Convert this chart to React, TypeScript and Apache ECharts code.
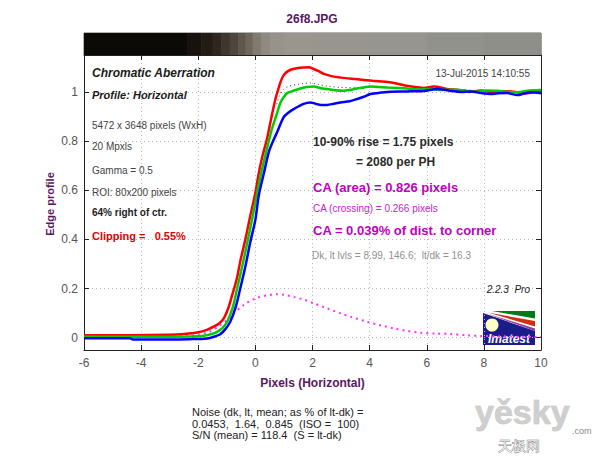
import React, { useEffect, useRef } from "react";
import * as echarts from "echarts";

// ---- data ----
const redX = [-6, -4.4, -3, -2.5, -2, -1.7, -1.46, -1.25, -1.1, -0.95, -0.82, -0.65, -0.53, -0.35, -0.17, 0, 0.12, 0.25, 0.41, 0.55, 0.7, 0.8, 0.88, 1.0, 1.23, 1.5, 1.7, 1.87, 2.04, 2.2, 2.4, 2.7, 3.0, 3.5, 4.1, 4.7, 5.3, 5.6, 5.9, 6.25, 6.7, 7.1, 7.5, 7.9, 8.3, 8.7, 9.1, 9.5, 10];
const redY = [0.01, 0.01, 0.012, 0.015, 0.022, 0.032, 0.045, 0.06, 0.08, 0.12, 0.17, 0.24, 0.31, 0.4, 0.5, 0.59, 0.67, 0.74, 0.81, 0.89, 0.97, 1.01, 1.04, 1.07, 1.09, 1.097, 1.099, 1.1, 1.093, 1.085, 1.073, 1.063, 1.058, 1.052, 1.045, 1.039, 1.025, 1.02, 1.016, 1.022, 1.012, 1.008, 1.0, 1.006, 0.999, 1.003, 1.0, 0.994, 1.004];

const greenX = [-6, -4.4, -3, -2.3, -1.81, -1.5, -1.34, -1.15, -0.99, -0.8, -0.64, -0.5, -0.35, -0.17, 0, 0.15, 0.29, 0.45, 0.58, 0.75, 0.88, 1.0, 1.11, 1.3, 1.58, 1.8, 2.04, 2.3, 2.51, 2.8, 3.1, 3.3, 3.56, 3.8, 4.03, 4.3, 4.61, 5.0, 5.31, 5.7, 6.13, 6.5, 7.06, 7.4, 7.77, 8.1, 8.47, 8.8, 9.17, 9.6, 10];
const greenY = [0.004, 0.004, 0.004, 0.005, 0.008, 0.016, 0.024, 0.04, 0.065, 0.12, 0.2, 0.27, 0.35, 0.45, 0.55, 0.64, 0.714, 0.79, 0.85, 0.91, 0.957, 0.98, 0.995, 1.003, 1.014, 1.02, 1.022, 1.015, 1.012, 1.007, 1.005, 1.008, 1.014, 1.018, 1.022, 1.02, 1.018, 1.016, 1.014, 1.01, 1.012, 1.008, 1.009, 1.004, 1.001, 1.006, 1.005, 1.0, 0.998, 1.006, 1.008];

const blueX = [-6, -4.4, -4.3, -3, -2.3, -1.69, -1.45, -1.23, -1.05, -0.88, -0.7, -0.53, -0.35, -0.175, 0, 0.12, 0.3, 0.47, 0.62, 0.76, 0.99, 1.15, 1.34, 1.69, 1.93, 2.1, 2.3, 2.51, 2.75, 2.98, 3.3, 3.56, 3.8, 4.03, 4.4, 4.73, 5.31, 5.9, 6.37, 6.83, 7.2, 7.53, 7.9, 8.23, 8.5, 8.82, 9.17, 9.4, 9.63, 10];
const blueY = [-0.002, -0.002, -0.007, -0.007, -0.006, -0.003, 0.004, 0.014, 0.035, 0.065, 0.12, 0.2, 0.29, 0.39, 0.48, 0.579, 0.67, 0.755, 0.8, 0.836, 0.897, 0.915, 0.93, 0.951, 0.957, 0.952, 0.947, 0.947, 0.952, 0.957, 0.962, 0.971, 0.98, 0.991, 0.997, 1.001, 1.002, 1.004, 1.012, 1.004, 1.0, 1.002, 0.995, 0.991, 0.994, 0.995, 0.987, 0.993, 0.998, 0.994];

const lumX = [0.75, 0.85, 1.0, 1.2, 1.5, 1.7, 1.93, 2.2, 2.5, 3.0, 3.5, 4.0, 5, 6, 7, 8, 9, 10];
const lumY = [0.95, 0.985, 1.012, 1.024, 1.031, 1.034, 1.036, 1.03, 1.024, 1.018, 1.017, 1.022, 1.016, 1.013, 1.009, 1.005, 1.0, 1.007];

const caX = [-6, -5, -4, -3, -2.3, -2, -1.6, -1.3, -1.0, -0.76, -0.41, 0, 0.4, 0.76, 1.0, 1.34, 1.7, 2.04, 2.5, 2.98, 3.4, 3.91, 4.4, 4.84, 5.3, 5.78, 6.3, 6.83, 7.4, 7.88, 8.5, 9.2, 10];
const caY = [0.004, 0.004, 0.006, 0.007, 0.008, 0.012, 0.025, 0.045, 0.07, 0.099, 0.133, 0.16, 0.172, 0.177, 0.175, 0.166, 0.155, 0.14, 0.12, 0.099, 0.083, 0.065, 0.05, 0.038, 0.028, 0.02, 0.017, 0.015, 0.01, 0.007, 0.006, 0.004, 0.003];

// edge image strip: segment starts (x) and shades
const stripX = [-6, -2.4, -1.9, -1.5, -1.2, -0.9, -0.6, -0.35, -0.1, 0.2, 0.5, 1.0, 2, 4, 6, 8, 10];
const stripColors = ["#0c0a07", "#17120d", "#231c15", "#2f271f", "#3f362d", "#4e453c", "#5f564c", "#6f675c", "#817a6f", "#8f897f", "#98938a", "#9a968d", "#98958e", "#96958f", "#92928c", "#8f8f8a"];

const yTicks = [0, 0.2, 0.4, 0.6, 0.8, 1];

const titleText = "26f8.JPG";
const xName = "Pixels (Horizontal)";
const yName = "Edge profile";
const leftNotes = [
  { t: "Chromatic Aberration", y: 73, s: "bold italic 12px", c: "#1a1a1a" },
  { t: "Profile: Horizontal", y: 95, s: "bold italic 11px", c: "#1a1a1a" },
  { t: "5472 x 3648 pixels (WxH)", y: 125, s: "10px", c: "#444" },
  { t: "20 Mpxls", y: 146, s: "10px", c: "#444" },
  { t: "Gamma = 0.5", y: 170, s: "10px", c: "#444" },
  { t: "ROI: 80x200 pixels", y: 192, s: "10px", c: "#444" },
  { t: "64% right of ctr.", y: 212, s: "bold 10px", c: "#222" },
  { t: "Clipping =   0.55%", y: 236, s: "bold 11px", c: "#e00000" },
];
const rightNotes = [
  { t: "10-90% rise = 1.75 pixels", x: 313, y: 142, s: "bold 12px", c: "#2a2a2a" },
  { t: "= 2080 per PH", x: 356, y: 162, s: "bold 12px", c: "#2a2a2a" },
  { t: "CA (area) = 0.826 pixels", x: 313, y: 187, s: "bold 13px", c: "#c000c0" },
  { t: "CA (crossing) = 0.266 pixels", x: 313, y: 208, s: "10px", c: "#d020d0" },
  { t: "CA = 0.039% of dist. to corner", x: 313, y: 230, s: "bold 13px", c: "#c000c0" },
  { t: "Dk, lt lvls = 8.99, 146.6;  lt/dk = 16.3", x: 312, y: 255, s: "10px", c: "#909090" },
];
const dateText = "13-Jul-2015 14:10:55";
const versionText = "2.2.3  Pro";
const noiseLines = [
  "Noise (dk, lt, mean; as % of lt-dk) =",
  "0.0453,  1.64,  0.845  (ISO =  100)",
  "S/N (mean) = 118.4  (S = lt-dk)",
];

const zip = (xs: number[], ys: number[]) => xs.map((x, i) => [x, ys[i]]);

export default function App() {
  const ref = useRef<HTMLDivElement>(null);
  useEffect(() => {
    const chart = echarts.init(ref.current!, null, { renderer: "svg" });
    const ff = "'Liberation Sans', Arial, sans-serif";
    const axisLine = { color: "#222", width: 1 };
    const split = { show: true, lineStyle: { type: [1, 3], color: "#b8b8b8", width: 1 } };
    const purple = "#5a1760";

    const txt = (text: string, x: number, y: number, font: string, fill: string, align = "left", extra: any = {}, rotation = 0) => ({
      type: "text",
      x,
      y,
      rotation,
      silent: true,
      style: {
        text,
        font: `${font} ${ff}`,
        fill,
        align,
        textAlign: align,
        verticalAlign: "middle",
        textVerticalAlign: "middle",
        ...extra,
      },
      z: 50,
    });

    const stripData = stripX.slice(0, -1).map((x, i) => [x, stripX[i + 1]]);

    const option: any = {
      animation: false,
      backgroundColor: "#ffffff",
      textStyle: { fontFamily: ff },
      grid: [
        { left: 84, top: 55, width: 457, height: 295 },
        { left: 84, top: 33, width: 457, height: 22, show: true, borderColor: "#666", borderWidth: 1 },
      ],
      xAxis: [
        {
          type: "value", gridIndex: 0, min: -6, max: 10, interval: 2, position: "bottom",
          axisLine: { show: true, onZero: false, lineStyle: axisLine },
          axisTick: { show: true, inside: true, length: 5, lineStyle: axisLine },
          axisLabel: { color: "#555", fontSize: 12, margin: 7, fontFamily: ff },
          splitLine: split,
          name: xName, nameLocation: "middle", nameGap: 27,
          nameTextStyle: { color: purple, fontWeight: "bold", fontSize: 12, fontFamily: ff },
        },
        {
          type: "value", gridIndex: 0, min: -6, max: 10, interval: 2, position: "top",
          axisLine: { show: true, onZero: false, lineStyle: axisLine },
          axisTick: { show: true, inside: true, length: 5, lineStyle: axisLine },
          axisLabel: { show: false }, splitLine: { show: false },
        },
        { type: "value", gridIndex: 1, min: -6, max: 10, show: false },
      ],
      yAxis: [
        {
          type: "value", gridIndex: 0, min: -0.05, max: 1.15, position: "left",
          axisLine: { show: true, onZero: false, lineStyle: axisLine },
          axisTick: { show: true, inside: true, length: 5, lineStyle: axisLine, customValues: yTicks },
          axisLabel: { color: "#555", fontSize: 12, margin: 6, fontFamily: ff, customValues: yTicks },
          splitLine: split,
        },
        {
          type: "value", gridIndex: 0, min: -0.05, max: 1.15, position: "right",
          axisLine: { show: true, onZero: false, lineStyle: axisLine },
          axisTick: { show: true, inside: true, length: 5, lineStyle: axisLine, customValues: yTicks },
          axisLabel: { show: false }, splitLine: { show: false },
        },
        { type: "value", gridIndex: 1, min: 0, max: 1, show: false },
      ],
      series: [
        {
          type: "custom", xAxisIndex: 2, yAxisIndex: 2, data: stripData, silent: true,
          renderItem: (params: any, api: any) => {
            const p0 = api.coord([api.value(0), 1]);
            const p1 = api.coord([api.value(1), 0]);
            return {
              type: "rect",
              shape: { x: p0[0], y: p0[1], width: p1[0] - p0[0] + 0.6, height: p1[1] - p0[1] },
              style: { fill: stripColors[params.dataIndex] },
            };
          },
        },
        {
          type: "line", data: zip(caX, caY), symbol: "none", smooth: 0.3, z: 2,
          lineStyle: { color: "#ff33ff", width: 2, type: [2, 4], cap: "butt" },
        },
        {
          type: "line", data: zip(lumX, lumY), symbol: "none", smooth: 0.3, z: 2,
          lineStyle: { color: "#333", width: 1, type: [1, 3] },
        },
        {
          type: "line", data: zip(redX, redY), symbol: "none", smooth: 0.3, z: 3,
          lineStyle: { color: "#ff0000", width: 2.5 },
        },
        {
          type: "line", data: zip(greenX, greenY), symbol: "none", smooth: 0.3, z: 4,
          lineStyle: { color: "#00cc00", width: 2.5 },
        },
        {
          type: "line", data: zip(blueX, blueY), symbol: "none", smooth: 0.3, z: 5,
          lineStyle: { color: "#0000ff", width: 2.5 },
        },
      ],
      graphic: {
        elements: [
          txt(titleText, 312, 19, "bold 12px", purple, "center"),
          txt(yName, 50, 204, "bold 11px", purple, "center", {}, Math.PI / 2),
          ...leftNotes.map((n) => txt(n.t, 92, n.y, n.s, n.c)),
          ...rightNotes.map((n) => txt(n.t, n.x, n.y, n.s, n.c)),
          txt(dateText, 530, 73, "10px", "#444", "right"),
          txt(versionText, 530, 289, "italic 10px", "#222", "right"),
          ...noiseLines.map((l, i) => txt(l, 192, 412 + i * 11.7, "11px", "#222")),
          {
            type: "group", x: 483, y: 311, z: 60, silent: true,
            children: [
              { type: "rect", shape: { x: 0, y: 0, width: 52, height: 34 }, style: { fill: "#1b1b8a" } },
              { type: "polygon", shape: { points: [[0, 0], [52, 0], [52, 20], [0, 2]] }, style: { fill: "#ffffff" } },
              { type: "polygon", shape: { points: [[9, 0], [52, 0], [52, 7.5]] }, style: { fill: "#007a1a" } },
              { type: "polygon", shape: { points: [[5, 1.6], [52, 10], [52, 15.5]] }, style: { fill: "#d03010" } },
              { type: "polygon", shape: { points: [[3, 2.2], [52, 17.5], [52, 20]] }, style: { fill: "#9a3aa0" } },
              { type: "circle", shape: { cx: 9, cy: 14, r: 6.5 }, style: { fill: "#ffffc8" } },
              {
                type: "text", x: 26, y: 28,
                style: { text: "Imatest", font: `bold italic 12px ${ff}`, fill: "#ffffff", align: "center", textAlign: "center", verticalAlign: "middle", textVerticalAlign: "middle" },
              },
            ],
          },
          txt("yěsky", 475, 412, "bold 34px", "#cfcfcf", "left", { stroke: "#b8b8b8", lineWidth: 0.6 }),
          txt(".com", 572, 431, "9px", "#888"),
          txt("天极网", 498, 446, "14px", "#f2f2f2", "left", { stroke: "#777", lineWidth: 0.8 }),
        ],
      },
    };
    chart.setOption(option);
    return () => chart.dispose();
  }, []);
  return <div ref={ref} style={{ position: "absolute", left: 0, top: 0, width: 600, height: 461 }} />;
}
